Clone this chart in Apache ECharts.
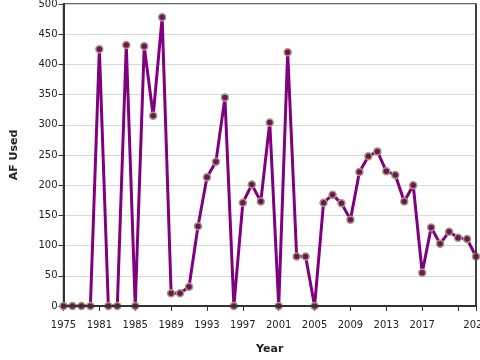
<!DOCTYPE html>
<html><head><meta charset="utf-8">
<script src="https://cdn.jsdelivr.net/npm/echarts@6/dist/echarts.min.js"></script>
<style>html,body{margin:0;padding:0;background:#fff}#c{width:480px;height:360px}</style>
</head><body><div id="c"></div>
<script>
const years = ['1975','1977','1978','1980','1981','1982','1983','1984','1985','1986','1987','1988','1989','1990','1991','1992','1993','1994','1995','1996','1997','1998','1999','2000','2001','2002','2003','2004','2005','2006','2007','2008','2009','2010','2011','2012','2013','2014','2015','2016','2017','2018','2019','2020','2021','2022','2023'];
const afUsed = [0,0,0,0,425,0,0,432,0,430,315,478,21,21,32,132,213,239,345,0,171,201,173,304,0,420,82,82,0,171,184,170,143,222,248,256,223,217,173,200,55,130,103,123,113,111,82];
const yTicks = [0,50,100,150,200,250,300,350,400,450,500];

const chart = echarts.init(document.getElementById('c'), null, {renderer:'canvas'});
const font = 'DejaVu Sans';
chart.setOption({
  animation:false,
  grid:{left:63.5,right:4,top:4,bottom:54,show:true,borderColor:'#333',borderWidth:1.5,backgroundColor:'#fff',
    containLabel:false, outerBoundsMode:'none'},
  xAxis:[{
    type:'category', data:years, boundaryGap:false,
    name:'Year', nameLocation:'middle', nameGap:38,
    nameTextStyle:{fontFamily:font,fontSize:11,fontWeight:'bold',color:'#222'},
    axisLine:{lineStyle:{color:'#333',width:2}},
    axisTick:{show:true,length:5,lineStyle:{color:'#333'},interval:(i)=> i%4===0 || i===years.length-1},
    axisLabel:{fontFamily:font,fontSize:10,color:'#222',margin:14,
      alignMaxLabel:'center', alignMinLabel:'center',
      interval:(i)=> (i%4===0 && i!==44) || i===years.length-1},
    splitLine:{show:false}
  },{
    type:'category', data:years, boundaryGap:false, position:'top', z:10,
    axisLine:{show:true,lineStyle:{color:'#333',width:2}},
    axisTick:{show:false}, axisLabel:{show:false}, splitLine:{show:false}
  }],
  yAxis:[{
    type:'value', min:0, max:500, interval:50,
    name:'AF Used', nameLocation:'middle', nameGap:44, nameRotate:90,
    nameTextStyle:{fontFamily:font,fontSize:11,fontWeight:'bold',color:'#222'},
    axisLine:{show:true,lineStyle:{color:'#333',width:2}},
    axisTick:{show:true,length:5,lineStyle:{color:'#333'}},
    axisLabel:{fontFamily:font,fontSize:10,color:'#222',margin:6,
      formatter:(v)=> yTicks.includes(v) ? String(v) : ''},
    splitLine:{show:true,lineStyle:{color:'#d9d9d9',width:1}}
  },{
    type:'value', min:0, max:500, interval:50, position:'right', z:10,
    axisLine:{show:true,lineStyle:{color:'#333',width:1.5}},
    axisTick:{show:false}, axisLabel:{show:false}, splitLine:{show:false}
  }],
  series:[{
    type:'line', data:afUsed, showAllSymbol:true,
    lineStyle:{color:'#800080',width:3},
    symbol:'circle', symbolSize:7,
    itemStyle:{color:'#6b1460',borderColor:'#a99a72',borderWidth:1.5},
    z:3
  }]
});
</script></body></html>
